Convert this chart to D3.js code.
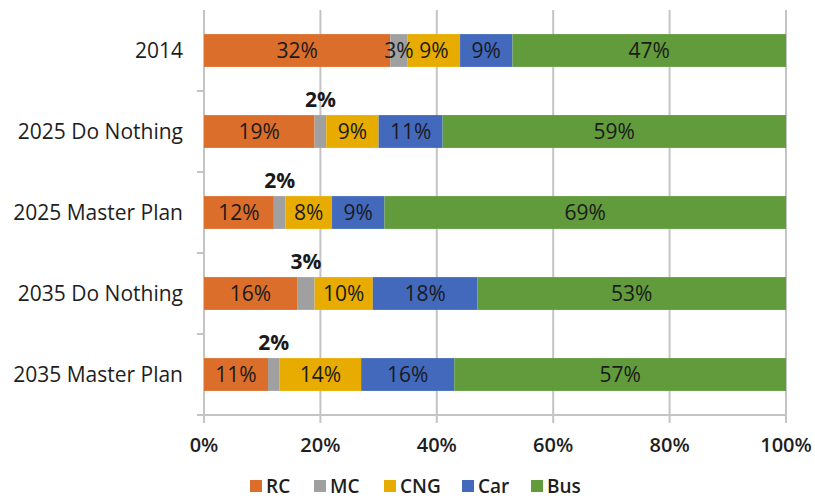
<!DOCTYPE html>
<html>
<head>
<meta charset="utf-8">
<script src="https://cdn.jsdelivr.net/npm/d3@7/dist/d3.min.js"></script>
<style>
  html, body { margin: 0; padding: 0; background: #fff; }
  svg { display: block; font-family: "Open Sans", sans-serif; }
</style>
</head>
<body>
<svg id="chart" width="815" height="498"></svg>
<script>
// Modal share by scenario (percent)
const categories = ["2014", "2025 Do Nothing", "2025 Master Plan", "2035 Do Nothing", "2035 Master Plan"];
const modes = ["RC", "MC", "CNG", "Car", "Bus"];
const rc  = [32, 19, 12, 16, 11];
const mc  = [3, 2, 2, 3, 2];
const cng = [9, 9, 8, 10, 14];
const car = [9, 11, 9, 18, 16];
const bus = [47, 59, 69, 53, 57];
const xTicks = [0, 20, 40, 60, 80, 100];
// MC labels that sit above their (narrow) segment
const mcLabelAbove = [false, true, true, true, true];

const colors = {
  RC: "#dc6e2b",
  MC: "#a0a0a0",
  CNG: "#e8ac00",
  Car: "#4369bd",
  Bus: "#619b3c"
};

const rows = categories.map((c, i) => ({
  category: c, RC: rc[i], MC: mc[i], CNG: cng[i], Car: car[i], Bus: bus[i]
}));

const svg = d3.select("#chart");
const margin = { left: 204, right: 29, top: 10, bottom: 83 };
const W = 815, H = 498;

const x = d3.scaleLinear().domain([0, 100]).range([margin.left, W - margin.right]);
const y = d3.scaleBand().domain(categories)
  .range([margin.top, H - margin.bottom])
  .paddingInner(0.595).paddingOuter(0.2975);

const gridColor = "#c4c4c4";

// Vertical gridlines (extend a little below the axis as tick marks)
svg.append("g").selectAll("line")
  .data(xTicks.filter(t => t > 0))
  .join("line")
  .attr("x1", d => x(d)).attr("x2", d => x(d))
  .attr("y1", margin.top).attr("y2", H - margin.bottom + 8)
  .attr("stroke", gridColor).attr("stroke-width", 2);

// Category axis
const yAxis = svg.append("g").attr("transform", `translate(${x(0)},0)`);
yAxis.append("line")
  .attr("x1", 0).attr("x2", 0)
  .attr("y1", margin.top).attr("y2", H - margin.bottom + 8)
  .attr("stroke", gridColor).attr("stroke-width", 2);
const bandEdges = categories.map(c => y(c) - y.step() * y.paddingInner() / 2).slice(1)
  .concat([H - margin.bottom]);
yAxis.selectAll("line.tick")
  .data(bandEdges)
  .join("line").attr("class", "tick")
  .attr("x1", -7).attr("x2", 0)
  .attr("y1", d => d).attr("y2", d => d)
  .attr("stroke", gridColor).attr("stroke-width", 2);

// Bottom axis line
svg.append("line")
  .attr("x1", x(0) - 7).attr("x2", x(100))
  .attr("y1", H - margin.bottom).attr("y2", H - margin.bottom)
  .attr("stroke", gridColor).attr("stroke-width", 2);

// X tick labels
svg.append("g").selectAll("text")
  .data(xTicks)
  .join("text")
  .attr("x", d => x(d)).attr("y", 452)
  .attr("text-anchor", "middle")
  .attr("font-size", 20).attr("font-weight", 600)
  .attr("fill", "#1e1e1e")
  .text(d => d + "%");

// Category labels
svg.append("g").selectAll("text")
  .data(categories)
  .join("text")
  .attr("x", 183).attr("y", d => y(d) + y.bandwidth() / 2)
  .attr("dy", "0.36em")
  .attr("text-anchor", "end")
  .attr("font-size", 21)
  .attr("fill", "#1e1e1e")
  .text(d => d);

// Stacked bars
const stack = d3.stack().keys(modes)(rows);
const layers = svg.append("g").selectAll("g")
  .data(stack)
  .join("g")
  .attr("fill", d => colors[d.key]);

layers.selectAll("rect")
  .data(d => d.map(s => ({ key: d.key, s })))
  .join("rect")
  .attr("x", d => x(d.s[0]))
  .attr("y", d => y(d.s.data.category))
  .attr("width", d => x(d.s[1]) - x(d.s[0]))
  .attr("height", y.bandwidth());

// Segment labels
const labels = svg.append("g");
stack.forEach(layer => {
  layer.forEach((s, i) => {
    const v = s[1] - s[0];
    const above = layer.key === "MC" && mcLabelAbove[i];
    const cy = y(s.data.category) + y.bandwidth() / 2;
    labels.append("text")
      .attr("x", x((s[0] + s[1]) / 2))
      .attr("y", above ? y(s.data.category) - 16 : cy)
      .attr("dy", "0.36em")
      .attr("text-anchor", "middle")
      .attr("font-size", 21)
      .attr("font-weight", above ? 700 : 400)
      .attr("fill", "#1a1a1a")
      .text(v + "%");
  });
});

// Legend
const legendX = [250, 314, 384, 462, 531];
const legend = svg.append("g").selectAll("g")
  .data(modes)
  .join("g")
  .attr("transform", (d, i) => `translate(${legendX[i]},480)`);
legend.append("rect")
  .attr("width", 12).attr("height", 12)
  .attr("fill", d => colors[d]);
legend.append("text")
  .attr("x", 16).attr("y", 13)
  .attr("font-size", 19).attr("font-weight", 600)
  .attr("fill", "#1e1e1e")
  .text(d => d);
</script>
</body>
</html>
